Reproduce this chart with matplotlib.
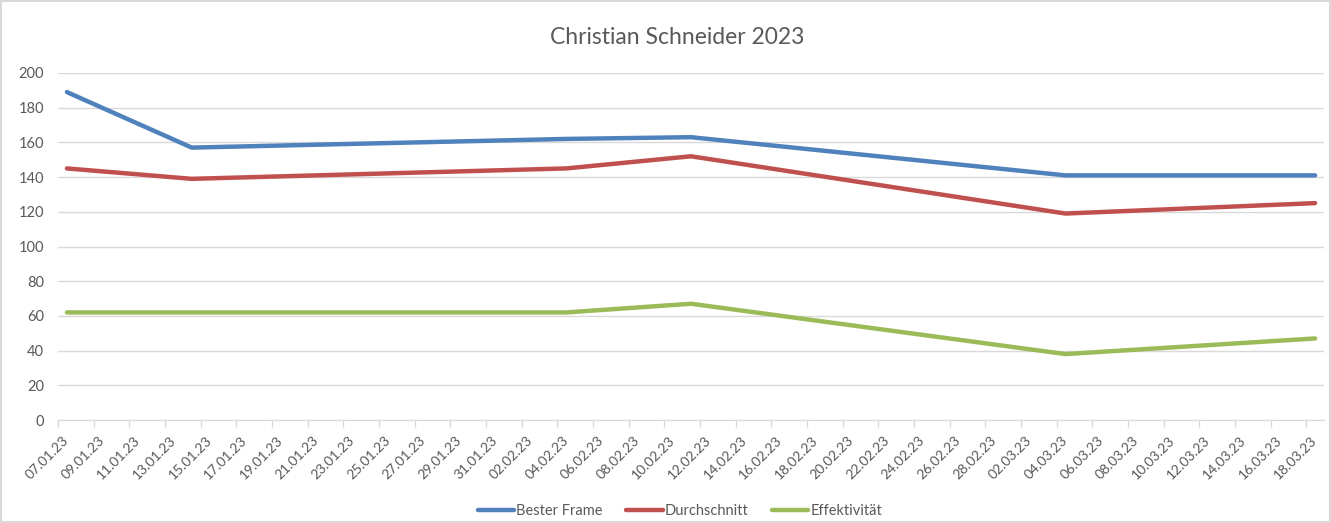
import matplotlib.pyplot as plt
import matplotlib.dates as mdates
import pandas as pd

# data points (dates)
dates = ['2023-01-07', '2023-01-14', '2023-02-04', '2023-02-11', '2023-03-04', '2023-03-18']
bester_frame = [189, 157, 162, 163, 141, 141]
durchschnitt = [145, 139, 145, 152, 119, 125]
effektivitaet = [62, 62, 62, 67, 38, 47]

series_names = ['Bester Frame', 'Durchschnitt', 'Effektivität']
colors = ['#4f81bd', '#c0504d', '#9bbb59']

tick_dates = pd.date_range('2023-01-07', '2023-03-18', freq='2D')
tick_labels = [d.strftime('%d.%m.%y') for d in tick_dates]


def main():
    plt.rcParams['font.family'] = ['Lato', 'DejaVu Sans']
    text_color = '#595959'
    grid_color = '#d9d9d9'

    fig = plt.figure(figsize=(13.31, 5.23), dpi=100)
    fig.patch.set_edgecolor(grid_color)
    fig.patch.set_linewidth(1.5)
    ax = fig.add_axes([58 / 1331, 103 / 523, (1324 - 58) / 1331, (420 - 73) / 523])

    x = mdates.date2num(pd.to_datetime(dates))
    for vals, name, c in zip([bester_frame, durchschnitt, effektivitaet], series_names, colors):
        ax.plot(x, vals, color=c, lw=3.2, label=name, solid_capstyle='round')

    tx = mdates.date2num(tick_dates)
    ax.set_xlim(tx[0] - 0.5, tx[-1] + 0.5)
    ax.set_ylim(0, 200)
    ax.set_yticks(range(0, 201, 20))

    ax.set_xticks(tx)
    ax.set_xticklabels(tick_labels, rotation=45, ha='right', va='center',
                       rotation_mode='anchor', fontsize=10, color=text_color)
    ax.set_xticks(tx - 0.5, minor=True)
    ax.tick_params(axis='x', which='major', length=0, pad=13)
    ax.tick_params(axis='x', which='minor', length=5, color=grid_color, width=1)
    ax.tick_params(axis='y', length=0, labelsize=10.5, labelcolor=text_color, pad=10)

    ax.grid(axis='y', color=grid_color, lw=1)
    ax.set_axisbelow(True)
    for s in ['top', 'right', 'left']:
        ax.spines[s].set_visible(False)
    ax.spines['bottom'].set_color(grid_color)

    fig.text(677 / 1331, 1 - 37 / 523, 'Christian Schneider 2023', ha='center', va='center',
             fontsize=16.5, color=text_color)

    fig.legend(loc='center', bbox_to_anchor=(680 / 1331, 12 / 523), ncol=3, frameon=False,
               fontsize=10.5, labelcolor=text_color, handlelength=2.5, handletextpad=0.15,
               columnspacing=1.6)

    fig.savefig('out.png', dpi=100)


if __name__ == '__main__':
    main()
